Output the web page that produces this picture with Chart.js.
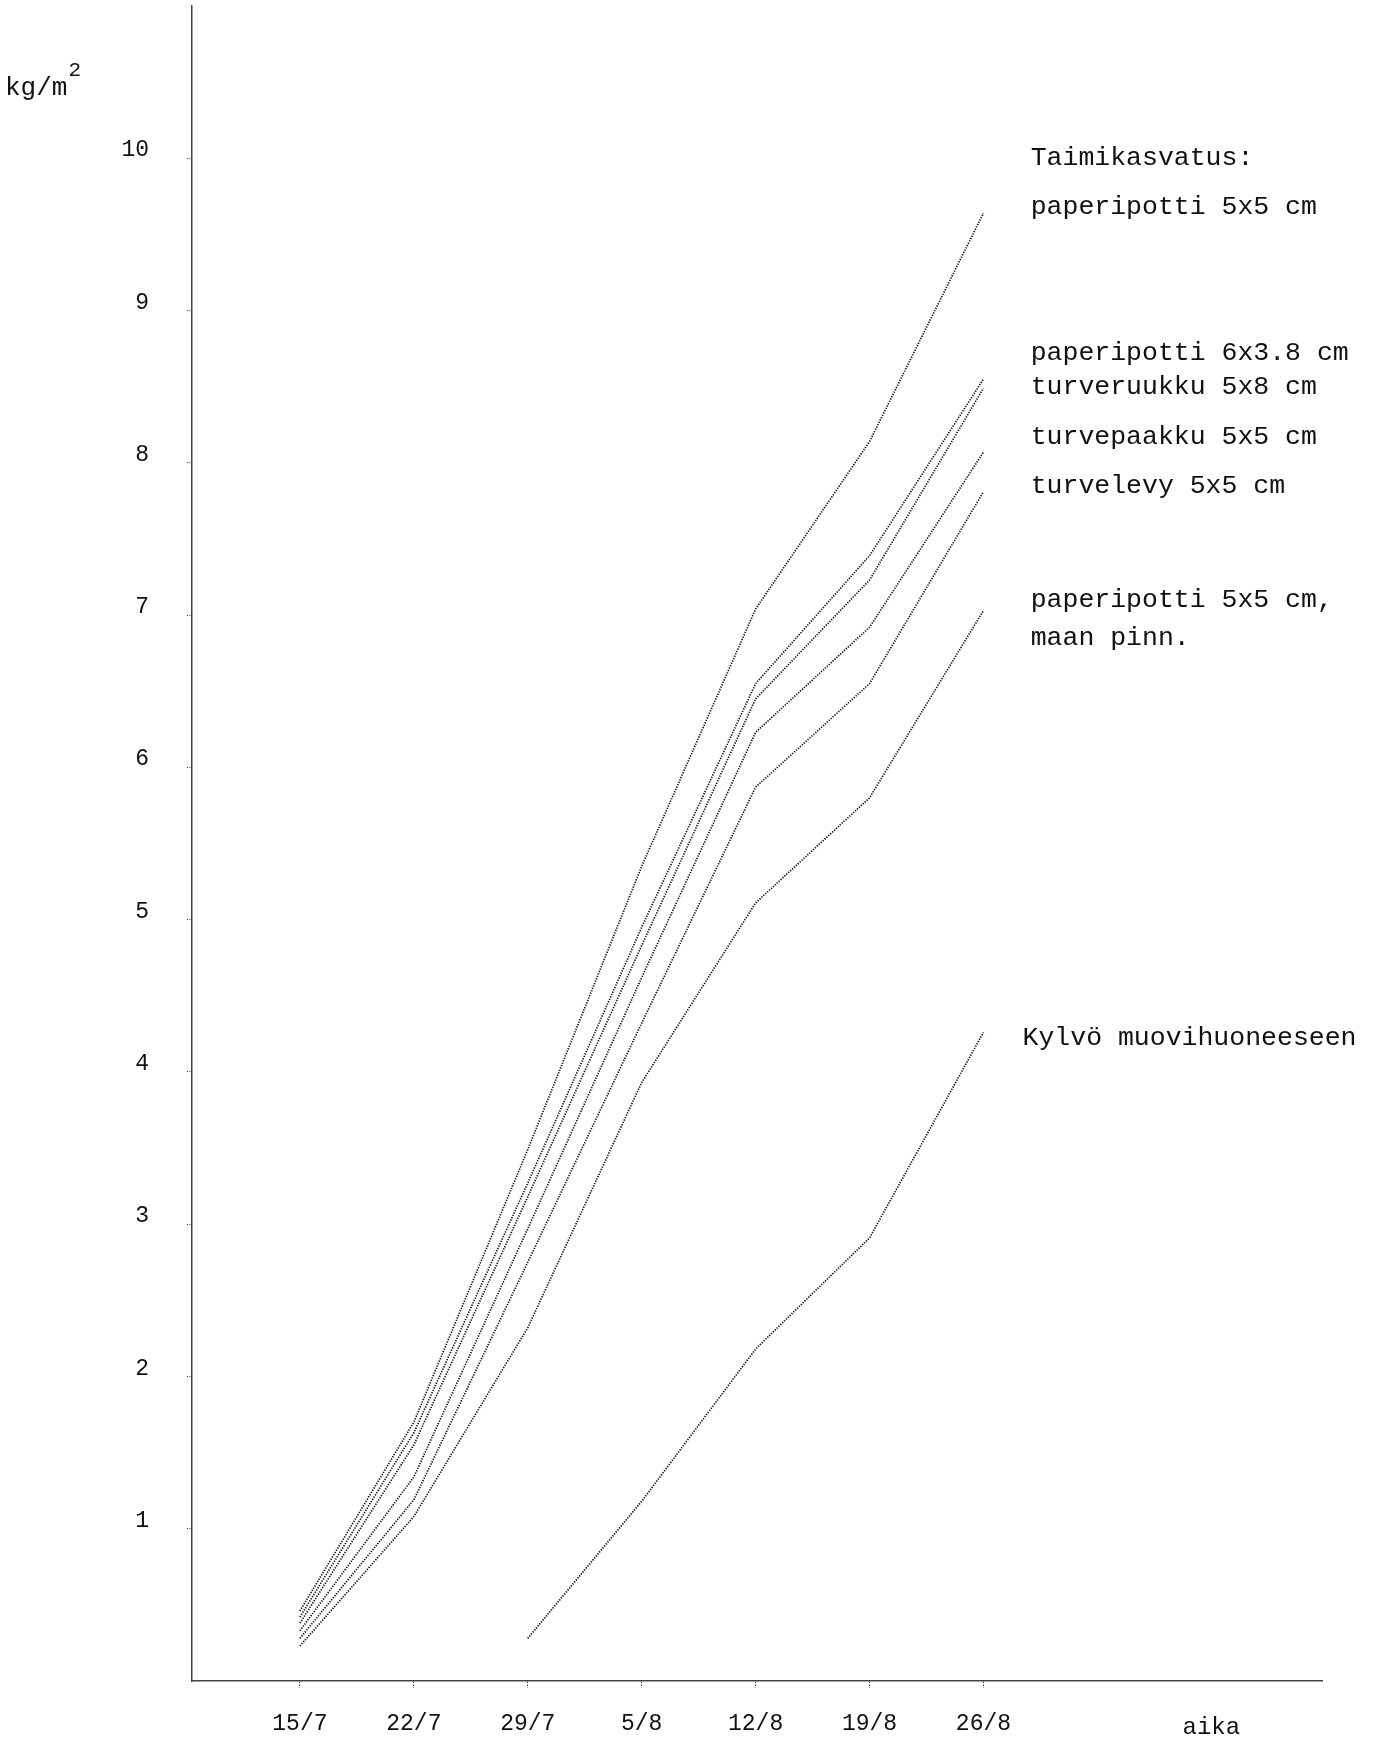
<!DOCTYPE html>
<html>
<head>
<meta charset="utf-8">
<script src="https://cdn.jsdelivr.net/npm/chart.js@4.4.0/dist/chart.umd.min.js"></script>
<style>
  html, body { margin: 0; padding: 0; background: #fff; }
  #wrap { width: 1379px; height: 1742px; }
</style>
</head>
<body>
<div id="wrap"><canvas id="chart" width="1379" height="1742"></canvas></div>
<script>
// days after 15/7 and the date labels under them
const days = [0, 7, 14, 21, 28, 35, 42];
const dateLabels = ["15/7", "22/7", "29/7", "5/8", "12/8", "19/8", "26/8"];
const yTicks = [1, 2, 3, 4, 5, 6, 7, 8, 9, 10];

// kg/m2
const paperipotti5x5 = [0.46, 1.70, 3.49, 5.35, 7.04, 8.14, 9.64];
const paperipotti6x38 = [0.42, 1.63, 3.27, 4.95, 6.55, 7.39, 8.55];
const turveruukku5x8 = [0.38, 1.55, 3.18, 4.83, 6.45, 7.23, 8.49];
const turvepaakku5x5 = [0.33, 1.34, 2.97, 4.62, 6.23, 6.92, 8.07];
const turvelevy5x5 = [0.28, 1.19, 2.75, 4.32, 5.87, 6.55, 7.81];
const maanPinn5x5 = [0.23, 1.08, 2.32, 3.93, 5.11, 5.80, 7.03];
const kylvoMuovihuone = [null, null, 0.28, 1.18, 2.18, 2.91, 4.26];

// line labels: [text, day, value]
const seriesLabels = [
  ["Taimikasvatus:", 44.9, 10.0],
  ["paperipotti 5x5 cm", 44.9, 9.68],
  ["paperipotti 6x3.8 cm", 44.9, 8.72],
  ["turveruukku 5x8 cm", 44.9, 8.50],
  ["turvepaakku 5x5 cm", 44.9, 8.17],
  ["turvelevy 5x5 cm", 44.9, 7.85],
  ["paperipotti 5x5 cm,", 44.9, 7.10],
  ["maan pinn.", 44.9, 6.85],
  ["Kylvö muovihuoneeseen", 44.4, 4.22]
];

const FONT = "'Liberation Mono', 'DejaVu Sans Mono', monospace";
const INK = "#151515";
const AXIS = "#444";

const toPoints = vals => days.map((d, i) => ({ x: d, y: vals[i] })).filter(p => p.y !== null);

const allSeries = [paperipotti5x5, paperipotti6x38, turveruukku5x8, turvepaakku5x5, turvelevy5x5, maanPinn5x5, kylvoMuovihuone];

const datasets = allSeries.map(vals => ({
  data: toPoints(vals),
  borderColor: INK,
  borderWidth: 1.7,
  borderDash: [1.3, 1.3],
  pointRadius: 0,
  tension: 0,
  fill: false
}));

const textPlugin = {
  id: "texts",
  afterDraw(chart) {
    const { ctx, scales: { x, y } } = chart;
    ctx.save();
    ctx.fillStyle = "#111";
    ctx.textBaseline = "middle";
    ctx.textAlign = "left";
    ctx.font = `26.5px ${FONT}`;
    seriesLabels.forEach(([txt, d, v]) => {
      ctx.fillText(txt, x.getPixelForValue(d), y.getPixelForValue(v));
    });

    // unit at the top of the y axis
    ctx.font = `26px ${FONT}`;
    ctx.fillText("kg/m", 5, 88);
    const w = ctx.measureText("kg/m").width;
    ctx.font = `21px ${FONT}`;
    ctx.fillText("2", 5 + w + 1, 70);

    // axis name at the right end of the x axis
    ctx.font = `24px ${FONT}`;
    ctx.textAlign = "center";
    ctx.fillText("aika", x.getPixelForValue(56), 1728);
    ctx.restore();
  }
};

new Chart(document.getElementById("chart"), {
  type: "line",
  data: { datasets },
  plugins: [textPlugin],
  options: {
    responsive: false,
    animation: false,
    layout: { padding: { top: 6, right: 57, left: 0, bottom: 0 } },
    plugins: { legend: { display: false }, tooltip: { enabled: false } },
    scales: {
      x: {
        type: "linear",
        min: -6.63,
        max: 62.8,
        afterBuildTicks: scale => { scale.ticks = days.map(v => ({ value: v })); },
        afterFit: scale => {
          scale.height = 61;
          scale.paddingLeft = 0; scale.paddingRight = 0;
        },
        border: { color: AXIS, width: 1.5, dash: [1.2, 1.3] },
        grid: { drawOnChartArea: false, drawTicks: true, tickLength: 7, color: AXIS, tickBorderDash: [1.5, 1.5] },
        ticks: {
          color: "#111",
          font: { family: FONT, size: 23 },
          padding: 22,
          maxRotation: 0,
          callback: v => dateLabels[days.indexOf(v)] ?? ""
        }
      },
      y: {
        type: "linear",
        min: 0,
        max: 11,
        afterBuildTicks: scale => { scale.ticks = yTicks.map(v => ({ value: v })); },
        afterFit: scale => {
          scale.width = 192;
          scale.paddingTop = 0; scale.paddingBottom = 0;
        },
        border: { color: AXIS, width: 1.5, dash: [1.2, 1.3] },
        grid: { drawOnChartArea: false, drawTicks: true, tickLength: 5, color: AXIS, tickBorderDash: [1, 1.5] },
        ticks: {
          color: "#111",
          font: { family: FONT, size: 23 },
          padding: 38,
          labelOffset: -8
        }
      }
    }
  }
});
</script>
</body>
</html>
